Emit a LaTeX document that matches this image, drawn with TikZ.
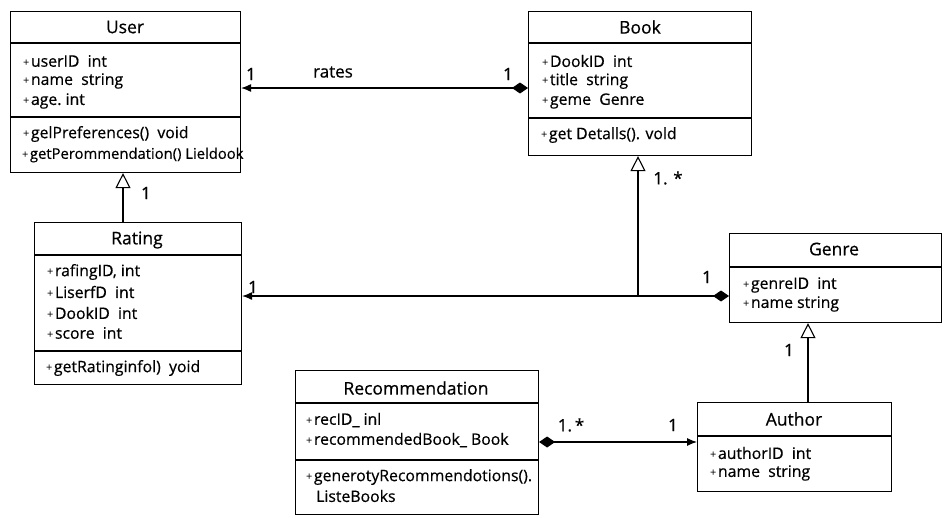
\documentclass[tikz,border=0pt]{standalone}
\usepackage{fontspec}
\setmainfont{Open Sans}
\usetikzlibrary{arrows.meta,calc}
\newcommand{\pl}{{\fontsize{11}{11}\selectfont\addfontfeatures{FakeBold=0}\raisebox{0.5pt}{+}}\hspace{1.5pt}}
\tikzset{
  cls/.style={draw, line width=1.1pt, anchor=north west, inner sep=0pt, minimum width=#1},
  divider/.style={line width=1.1pt},
  ttl/.style={font=\fontsize{17.5}{19}\selectfont\addfontfeatures{FakeBold=0.6}, inner sep=0pt},
  attr/.style={font=\fontsize{15.8}{17}\selectfont\addfontfeatures{FakeBold=0.5}, anchor=west, inner sep=0pt},
  mult/.style={font=\fontsize{17}{18}\selectfont\addfontfeatures{FakeBold=0.5}, inner sep=0pt},
  conn/.style={line width=1.1pt},
  udia/.tip={Diamond[fill=black,length=16pt,width=11pt]},
  utip/.tip={Latex[length=10pt,width=8pt]},
  ugen/.tip={Triangle[open,fill=white,length=15pt,width=15pt,line width=1.1pt]}
}
\begin{document}
\begin{tikzpicture}[x=1pt,y=-1pt]
\useasboundingbox (0,0) rectangle (945,517);
\fill[white] (0,0) rectangle (945,517);

% User
\node[cls=230pt, minimum height=161pt] (user) at (10,11) {};
\draw[divider] (10,43) -- (240,43);
\draw[divider] (10,117) -- (240,117);
\node[ttl] (usert) at (125,27) {User};
\node[attr] (u1) at (23,61) {\pl userID\ \ int};
\node[attr] (u2) at (23,81) {\pl name\ \ string};
\node[attr] (u3) at (23,101) {\pl age.\ int};
\node[attr] (u4) at (23,134) {\pl gelPreferences()\ \ void};
\node[attr, font=\fontsize{14.8}{16}\selectfont\addfontfeatures{FakeBold=0.5}] (u5) at (22,155) {\pl getPerommendation() Lieldook};

% Book
\node[cls=223pt, minimum height=144pt] (book) at (528,11) {};
\draw[divider] (528,43) -- (751,43);
\draw[divider] (528,118) -- (751,118);
\node[ttl] (bookt) at (640,27) {Book};
\node[attr] (b1) at (542,61) {\pl DookID\ \ int};
\node[attr] (b2) at (542,81) {\pl title\ \ string};
\node[attr] (b3) at (542,101) {\pl geme\ \ Genre};
\node[attr] (b4) at (541,135) {\pl get Detalls(). vold};

% Rating
\node[cls=207pt, minimum height=162pt] (rating) at (34,222) {};
\draw[divider] (34,255) -- (241,255);
\draw[divider] (34,351) -- (241,351);
\node[ttl] (ratingt) at (137,240) {Rating};
\node[attr] (r1) at (47,272) {\pl rafingID,\ int};
\node[attr] (r2) at (47,292) {\pl LiserfD\ \ int};
\node[attr] (r3) at (47,313) {\pl DookID\ \ int};
\node[attr] (r4) at (47,333) {\pl score\ \ int};
\node[attr] (r5) at (46,368) {\pl getRatinginfol)\ \ yoid};

% Recommendation
\node[cls=243pt, minimum height=144pt] (rec) at (295,370) {};
\draw[divider] (295,403) -- (538,403);
\draw[divider] (295,460) -- (538,460);
\node[ttl] (rect) at (416,388) {Recommendation};
\node[attr] (c1) at (306,420) {\pl recID\_ inl};
\node[attr] (c2) at (306,440) {\pl recommendedBook\_ Book};
\node[attr] (c3) at (306,477) {\pl generotyRecommendotions().};
\node[attr] (c4) at (316,496) {ListeBooks};

% Genre
\node[cls=212pt, minimum height=89pt] (genre) at (729,233) {};
\draw[divider] (729,267) -- (941,267);
\node[ttl] (genret) at (834,249) {Genre};
\node[attr] (g1) at (743,285) {\pl genreID\ \ int};
\node[attr] (g2) at (743,304) {\pl name\ string};

% Author
\node[cls=194pt, minimum height=89pt] (author) at (697,402) {};
\draw[divider] (697,436) -- (891,436);
\node[ttl] (authort) at (794,419) {Author};
\node[attr] (a1) at (710,453) {\pl authorID\ \ int};
\node[attr] (a2) at (710,473) {\pl name\ \ string};

% Connectors
\coordinate (rj) at (638,296);
\draw[conn, {utip}-{udia}] (user.east |- 0,88) -- (book.west |- 0,88);
\node[mult] at (333,72) {rates};
\node[mult] at (251,74) {1};
\node[mult] at (508,74) {1};

\draw[conn, -{ugen}] (rating.north -| 123,0) -- (user.south -| 123,0);
\node[mult] at (146,193) {1};

\draw[conn, {utip}-{udia}] (rating.east |- rj) -- (genre.west |- rj);
\draw[conn, -{ugen}] (rj) -- (book.south -| rj);
\node[mult] at (253,287) {1};
\node[mult] at (707,277) {1};
\node[mult] at (668,178) {1.\,\,*};

\draw[conn, {udia}-{utip}] (rec.east |- 0,442) -- (author.west |- 0,442);
\node[mult] at (571,425) {1.\,*};
\node[mult] at (673,425) {1};

\draw[conn, -{ugen}] (author.north -| 808,0) -- (genre.south -| 808,0);
\node[mult] at (789,350) {1};
\end{tikzpicture}
\end{document}
